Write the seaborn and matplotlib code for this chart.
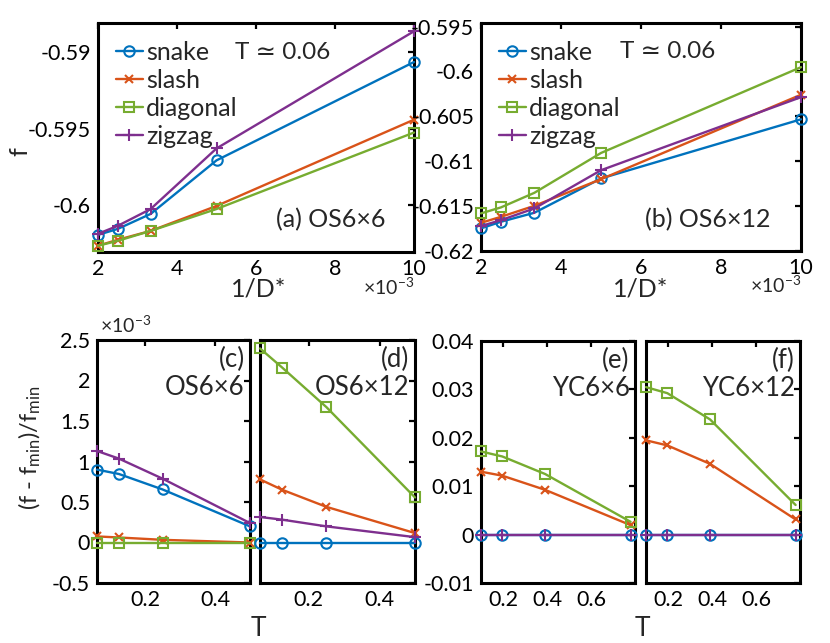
import numpy as np
import pandas as pd
import matplotlib
matplotlib.use('Agg')
import matplotlib.pyplot as plt
import seaborn as sns
from matplotlib.ticker import FuncFormatter

# ---- data ----
# top row: x axis is 1/D* in units of 1e-3, T ~ 0.06
inv_D = [2.0, 2.5, 3.333, 5.0, 10.0]

# (a) OS6x6
a_snake = [-0.60195, -0.60156, -0.60058, -0.59708, -0.59065]
a_slash = [-0.60266, -0.60227, -0.60169, -0.60006, -0.59442]
a_diagonal = [-0.60266, -0.60234, -0.60169, -0.60026, -0.59526]
a_zigzag = [-0.60188, -0.60136, -0.60026, -0.59630, -0.58864]

# (b) OS6x12
b_snake = [-0.61748, -0.61674, -0.61574, -0.61192, -0.60533]
b_slash = [-0.61686, -0.61619, -0.61497, -0.61200, -0.60259]
b_diagonal = [-0.61581, -0.61514, -0.61352, -0.60908, -0.59952]
b_zigzag = [-0.61722, -0.61656, -0.61526, -0.61100, -0.60286]

# bottom row: temperatures
T_os = [0.0625, 0.125, 0.25, 0.5]
T_yc = [0.0977, 0.195, 0.39, 0.78]

# (c) OS6x6, (f - fmin)/fmin in units of 1e-3
c_snake = [0.90, 0.846, 0.655, 0.199]
c_slash = [0.075, 0.062, 0.033, 0.0]
c_diagonal = [0.0, 0.0, 0.0, 0.0]
c_zigzag = [1.13, 1.036, 0.788, 0.24]

# (d) OS6x12, units of 1e-3
d_snake = [0.0, 0.0, 0.0, 0.0]
d_slash = [0.779, 0.651, 0.44, 0.116]
d_diagonal = [2.396, 2.16, 1.671, 0.556]
d_zigzag = [0.315, 0.282, 0.199, 0.066]

# (e) YC6x6
e_snake = [0.0, 0.0, 0.0, 0.0]
e_slash = [0.0130, 0.01217, 0.00925, 0.00195]
e_diagonal = [0.01718, 0.01614, 0.01252, 0.00264]
e_zigzag = [0.0, 0.0, 0.0, 0.0]

# (f) YC6x12
f_snake = [0.0, 0.0, 0.0, 0.0]
f_slash = [0.01948, 0.01843, 0.01461, 0.00313]
f_diagonal = [0.03047, 0.02922, 0.02379, 0.00612]
f_zigzag = [0.0, 0.0, 0.0, 0.0]

names = ['snake', 'slash', 'diagonal', 'zigzag']
colors = {'snake': '#0072BD', 'slash': '#D95319', 'diagonal': '#77AC30', 'zigzag': '#7E2F8E'}
markers = {'snake': 'o', 'slash': 'x', 'diagonal': 's', 'zigzag': '+'}
msize = {'snake': 7.5, 'slash': 6, 'diagonal': 7, 'zigzag': 8.5}

sns.set_theme(style='white')
plt.rcParams['font.family'] = ['Lato', 'DejaVu Sans']
plt.rcParams['mathtext.fontset'] = 'custom'
plt.rcParams['mathtext.rm'] = 'Lato'
plt.rcParams['mathtext.it'] = 'Lato'
plt.rcParams['axes.unicode_minus'] = False

fmt = FuncFormatter(lambda v, p: '%g' % (np.round(v, 6) + 0.0))


def draw(ax, x, series, legend=False):
    for name in names:
        open_face = name in ('snake', 'diagonal')
        sns.lineplot(x=x, y=series[name], ax=ax, color=colors[name],
                     marker=markers[name], markersize=msize[name], linewidth=1.7,
                     markeredgewidth=1.5, markeredgecolor=colors[name],
                     markerfacecolor='none' if open_face else colors[name],
                     label=name if legend else None, legend=False,
                     clip_on=False, zorder=3)


def style(ax):
    for sp in ax.spines.values():
        sp.set_linewidth(2.2)
        sp.set_color('black')
    ax.tick_params(direction='in', top=True, right=True, length=4, width=1.6,
                   labelsize=15.5, colors='black', pad=5)
    ax.set_xlabel('')
    ax.set_ylabel('')


fig = plt.figure(figsize=(8.3, 6.43), dpi=100)
W, H = 830.0, 643.0


def add_axes(x0, x1, y0, y1):
    return fig.add_axes([x0 / W, 1 - y1 / H, (x1 - x0) / W, (y1 - y0) / H])


ax_a = add_axes(98, 414, 23, 252)
ax_b = add_axes(481, 801, 23, 251)
ax_c = add_axes(97, 250, 340, 583)
ax_d = add_axes(260, 415, 340, 583)
ax_e = add_axes(481, 635, 341, 583)
ax_f = add_axes(646, 800, 341, 583)

# top row
draw(ax_a, inv_D, dict(snake=a_snake, slash=a_slash, diagonal=a_diagonal, zigzag=a_zigzag), legend=True)
draw(ax_b, inv_D, dict(snake=b_snake, slash=b_slash, diagonal=b_diagonal, zigzag=b_zigzag), legend=True)

for ax in (ax_a, ax_b):
    ax.set_xlim(2, 10)
    ax.set_xticks([2, 4, 6, 8, 10])
    style(ax)
    ax.yaxis.set_major_formatter(fmt)
    ax.legend(loc='upper left', bbox_to_anchor=(0.0, 1.0), frameon=False, fontsize=18,
              handlelength=1.1, handletextpad=0.12, labelspacing=0.2, borderaxespad=0.3)
    ax.text(0.435, 0.873, 'T \u2243 0.06', transform=ax.transAxes, fontsize=17.5,
            ha='left', va='center', family=['Lato', 'DejaVu Sans'])
    ax.text(1.0, -0.185, r'$\times$10$^{-3}$', transform=ax.transAxes, fontsize=14,
            ha='right', va='baseline')

ax_a.set_ylim(-0.60307, -0.58810)
ax_a.set_yticks([-0.6, -0.595, -0.59])
ax_b.set_ylim(-0.62, -0.5946)
ax_b.set_yticks([-0.62, -0.615, -0.61, -0.605, -0.6, -0.595])

ax_a.text(0.91, 0.14, '(a) OS6\u00d76', transform=ax_a.transAxes, fontsize=18, ha='right', va='center')
ax_b.text(0.905, 0.136, '(b) OS6\u00d712', transform=ax_b.transAxes, fontsize=18, ha='right', va='center')

# bottom row
draw(ax_c, T_os, dict(snake=c_snake, slash=c_slash, diagonal=c_diagonal, zigzag=c_zigzag))
draw(ax_d, T_os, dict(snake=d_snake, slash=d_slash, diagonal=d_diagonal, zigzag=d_zigzag))
draw(ax_e, T_yc, dict(snake=e_snake, slash=e_slash, diagonal=e_diagonal, zigzag=e_zigzag))
draw(ax_f, T_yc, dict(snake=f_snake, slash=f_slash, diagonal=f_diagonal, zigzag=f_zigzag))

for ax in (ax_c, ax_d):
    ax.set_xlim(0.0625, 0.5)
    ax.set_xticks([0.2, 0.4])
    ax.set_ylim(-0.5, 2.5)
    ax.set_yticks([-0.5, 0, 0.5, 1, 1.5, 2, 2.5])
for ax in (ax_e, ax_f):
    ax.set_xlim(0.0977, 0.8)
    ax.set_xticks([0.2, 0.4, 0.6])
    ax.set_ylim(-0.01, 0.04)
    ax.set_yticks([-0.01, 0, 0.01, 0.02, 0.03, 0.04])

for ax in (ax_c, ax_d, ax_e, ax_f):
    style(ax)
    ax.xaxis.set_major_formatter(fmt)
    ax.yaxis.set_major_formatter(fmt)
ax_d.tick_params(labelleft=False)
ax_f.tick_params(labelleft=False)

ax_c.text(0.02, 1.03, r'$\times$10$^{-3}$', transform=ax_c.transAxes, fontsize=14,
          ha='left', va='baseline')

panel_text = [(ax_c, '(c)', 'OS6\u00d76'), (ax_d, '(d)', 'OS6\u00d712'),
              (ax_e, '(e)', 'YC6\u00d76'), (ax_f, '(f)', 'YC6\u00d712')]
for ax, tag, lab in panel_text:
    ax.text(0.965, 0.918, tag, transform=ax.transAxes, fontsize=18.5, ha='right', va='center')
    ax.text(0.965, 0.805, lab, transform=ax.transAxes, fontsize=18.5, ha='right', va='center')

# axis labels
fig.text(20 / W, 1 - 152 / H, 'f', fontsize=18, rotation=90, ha='center', va='center')
fig.text(259 / W, 1 - 289 / H, '1/D*', fontsize=18, ha='center', va='center')
fig.text(641 / W, 1 - 289 / H, '1/D*', fontsize=18, ha='center', va='center')
fig.text(30 / W, 1 - 448 / H, r'(f - f$_{\rm min}$)/f$_{\rm min}$', fontsize=17,
         rotation=90, ha='center', va='center')
fig.text(258 / W, 1 - 628 / H, 'T', fontsize=19, ha='center', va='center')
fig.text(642 / W, 1 - 628 / H, 'T', fontsize=19, ha='center', va='center')

fig.savefig('out.png', dpi=100)
